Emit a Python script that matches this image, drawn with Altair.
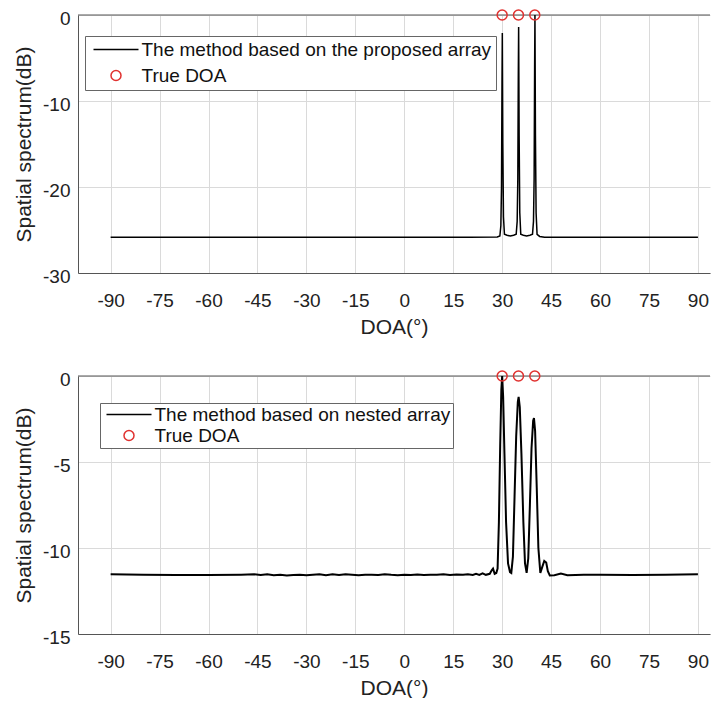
import altair as alt
import pandas as pd

# ---------------- data ----------------
top_doa = [-90, 20, 28.5, 29.3, 29.6, 29.8, 29.95, 30.05, 30.2, 30.4, 30.7, 31.5, 32.5, 33.5,
           34.3, 34.6, 34.8, 34.95, 35.05, 35.2, 35.4, 35.7, 36.5, 37.5, 38.5,
           39.3, 39.6, 39.8, 39.95, 40.05, 40.2, 40.4, 40.7, 41.5, 43, 60, 90]
top_db = [-25.85, -25.85, -25.82, -25.7, -24.5, -20.0, -8.0, -2.1, -15.0, -23.5, -25.5, -25.6, -25.7, -25.6,
          -25.5, -24.0, -19.0, -7.0, -1.4, -14.0, -23.0, -25.5, -25.6, -25.7, -25.6,
          -25.5, -24.0, -19.0, -6.0, 0.0, -14.0, -23.0, -25.5, -25.75, -25.85, -25.85, -25.85]

bot_doa = [-90, -80, -70, -60, -50, -46, -44, -42, -40, -38, -36, -34, -32, -30, -28, -26, -24,
           -22, -20, -18, -16, -14, -12, -10, -8, -6, -4, -2, 0, 2, 4, 6, 8, 10, 12, 14, 16,
           18, 19.5, 21, 22, 23, 24, 25, 26.2, 26.8, 27.2, 27.7, 28.2, 28.6, 29.0, 29.4,
           29.75, 30.0, 30.3, 30.7, 31.2, 31.8, 32.4, 32.8, 33.3, 33.8, 34.3, 34.8, 35.05,
           35.4, 35.9, 36.5, 37.0, 37.5, 38.0, 38.5, 39.0, 39.5, 39.75, 40.1, 40.6, 41.1,
           41.7, 42.3, 42.9, 43.5, 44.0, 44.6, 46, 48, 50, 55, 60, 70, 80, 90]
bot_db = [-11.52, -11.55, -11.57, -11.57, -11.55, -11.53, -11.57, -11.53, -11.58, -11.55, -11.6,
          -11.57, -11.55, -11.58, -11.55, -11.52, -11.58, -11.53, -11.57, -11.52, -11.55, -11.58,
          -11.56, -11.55, -11.57, -11.53, -11.56, -11.58, -11.55, -11.57, -11.54, -11.57, -11.55,
          -11.56, -11.53, -11.57, -11.54, -11.56, -11.52, -11.57, -11.5, -11.56, -11.47, -11.56,
          -11.5, -11.3, -11.2, -11.5, -11.45, -11.2, -8.5, -4.0,
          -0.8, 0.0, -1.2, -4.5, -8.5, -10.9, -11.4, -11.45, -10.5, -7.0, -3.5, -1.5, -1.22,
          -1.8, -4.5, -8.5, -10.9, -11.45, -10.6, -7.5, -4.2, -2.6, -2.45, -3.2, -6.5, -10.0,
          -11.45, -11.1, -10.75, -10.85, -11.35, -11.6, -11.58, -11.48, -11.58, -11.56, -11.55,
          -11.57, -11.56, -11.52]

true_doa = [30, 35, 40]
true_db = [0, 0, 0]

x_ticks = [-90, -75, -60, -45, -30, -15, 0, 15, 30, 45, 60, 75, 90]
top_yticks = [0, -10, -20, -30]
bot_yticks = [0, -5, -10, -15]
top_label = "The method based on the proposed array"
bot_label = "The method based on nested array"
true_label = "True DOA"

# ---------------- styling ----------------
FONT = "Liberation Sans"
X_MIN, X_MAX = -100, 93.7
AX = "#555555"
RED = "#e0312f"
LINE_SYMBOL = "M-4.5,0L4.5,0"


def panel(doa, db, label, ydom, yticks, lx, ly, pad, row_pad, lw):
    line_df = pd.DataFrame({"doa": doa, "db": db, "series": label})
    pt_df = pd.DataFrame({"doa": true_doa, "db": true_db, "series": true_label})
    dom = [label, true_label]
    xsc = alt.Scale(domain=[X_MIN, X_MAX], nice=False, zero=False)
    ysc = alt.Scale(domain=ydom, nice=False, zero=False)
    xax = alt.Axis(values=x_ticks, title="DOA(°)", labelPadding=18, titlePadding=6,
                   labelExpr="'' + datum.value", labelFlush=False, grid=True)
    yax = alt.Axis(values=yticks, title="Spatial spectrum(dB)", labelPadding=8, labelOffset=3,
                   titlePadding=8, labelExpr="'' + datum.value", labelFlush=False, grid=True)
    leg = alt.Legend(title=None, orient="none", legendX=lx, legendY=ly,
                     fillColor="white", strokeColor="#666666", padding=pad,
                     labelFont=FONT, labelFontSize=19, labelColor="#111111", labelLimit=0,
                     symbolOffset=17.5, labelOffset=16, rowPadding=row_pad,
                     symbolStrokeWidth=1.5, symbolSize=100,
                     symbolFillColor="transparent")
    color = alt.Color("series:N", scale=alt.Scale(domain=dom, range=["#000000", RED]), legend=leg)
    line = alt.Chart(line_df).mark_line(strokeWidth=lw).encode(
        x=alt.X("doa:Q", scale=xsc, axis=xax),
        y=alt.Y("db:Q", scale=ysc, axis=yax),
        color=color,
    )
    pts = alt.Chart(pt_df).mark_point(filled=False, strokeWidth=1.5, opacity=1, size=100).encode(
        x=alt.X("doa:Q", scale=xsc, axis=xax),
        y=alt.Y("db:Q", scale=ysc, axis=yax),
        color=color,
        shape=alt.Shape("series:N", scale=alt.Scale(domain=dom, range=[LINE_SYMBOL, "circle"]), legend=leg),
    )
    border = alt.Chart(pd.DataFrame({"k": [0]})).mark_rule(color=AX, strokeWidth=1).encode(
        x=alt.datum(X_MIN), x2=alt.datum(X_MAX), y=alt.datum(ydom[1])
    )
    return alt.layer(border, line, pts).properties(width=632, height=258)


top = panel(top_doa, top_db, top_label, [-30, 0], top_yticks, 7, 21, 4, 6, 1.5)
bot = panel(bot_doa, bot_db, bot_label, [-15, 0], bot_yticks, 22, 27, 2, 1, 2)

chart = alt.vconcat(top, bot, spacing=31).resolve_scale(
    color="independent", shape="independent"
).resolve_legend(
    color="independent", shape="independent"
).properties(
    padding={"left": 5, "top": -1, "right": 0, "bottom": 0}
).configure_view(stroke=None).configure_axis(
    labelFont=FONT, titleFont=FONT, labelFontSize=19, titleFontSize=21,
    labelColor="#222222", titleColor="#222222", titleFontWeight="normal",
    domainColor=AX, domainWidth=1, gridColor="#dadada", gridWidth=1, ticks=False,
)

chart.save("out.html", embed_options={"renderer": "svg", "actions": False})
